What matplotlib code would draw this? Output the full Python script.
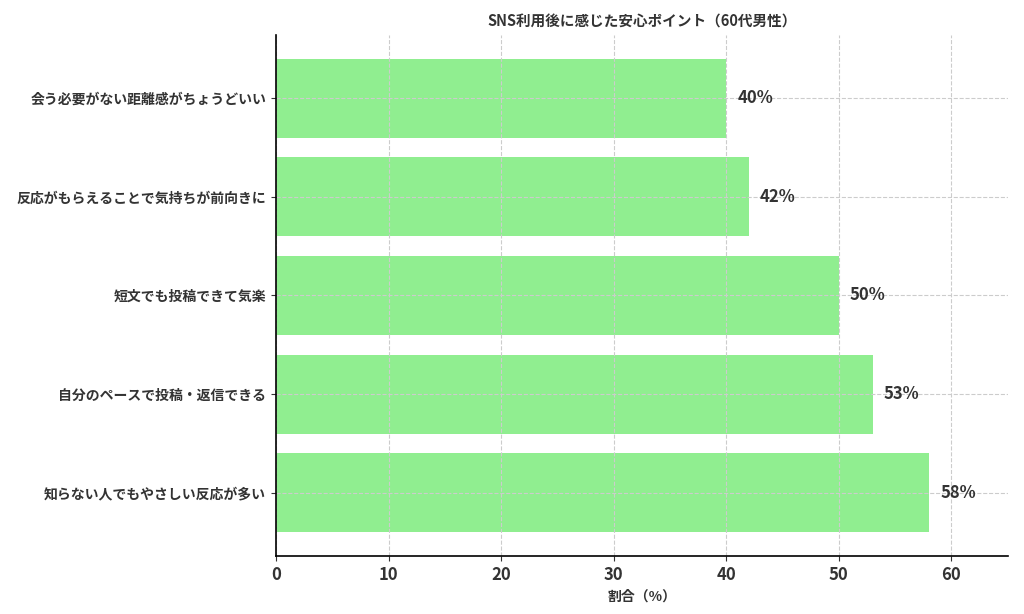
import matplotlib.pyplot as plt

plt.rcParams['font.family'] = ['Noto Sans CJK JP', 'DejaVu Sans']

# categories listed top to bottom
categories = [
    "会う必要がない距離感がちょうどいい",
    "反応がもらえることで気持ちが前向きに",
    "短文でも投稿できて気楽",
    "自分のペースで投稿・返信できる",
    "知らない人でもやさしい反応が多い",
]
values = [40, 42, 50, 53, 58]

title = "SNS利用後に感じた安心ポイント（60代男性）"
xlabel = "割合（%）"
text_color = "#333333"

fig = plt.figure(figsize=(10.24, 6.14), dpi=100)
ax = fig.add_axes([0.2695, 0.0945, 0.7145, 0.8485])

ypos = list(range(len(categories)))
ax.barh(ypos, values, height=0.8, color="#90EE90", zorder=1)
ax.set_yticks(ypos)
ax.set_yticklabels(categories, fontsize=10, fontweight="bold", color=text_color)
ax.invert_yaxis()

for y, v in zip(ypos, values):
    ax.text(v + 1, y, f"{v}%", va="center", ha="left",
            fontsize=12, fontweight="bold", color=text_color)

ax.set_xlim(0, 65)
ax.set_xticks([0, 10, 20, 30, 40, 50, 60])
ax.tick_params(axis="x", labelsize=12, colors=text_color)
for lbl in ax.get_xticklabels():
    lbl.set_fontweight("bold")
ax.tick_params(axis="y", colors=text_color)

ax.set_xlabel(xlabel, fontsize=10, fontweight="bold", color=text_color)
ax.set_title(title, fontsize=10.5, fontweight="bold", color=text_color)

# grid above the bars but below the spines
ax.set_axisbelow("line")
ax.grid(True, linestyle="--", color="#cccccc", linewidth=0.8)
ax.spines["top"].set_visible(False)
ax.spines["right"].set_visible(False)
ax.spines["left"].set_linewidth(1.2)
ax.spines["bottom"].set_linewidth(1.2)

fig.savefig("out.png", dpi=100)
